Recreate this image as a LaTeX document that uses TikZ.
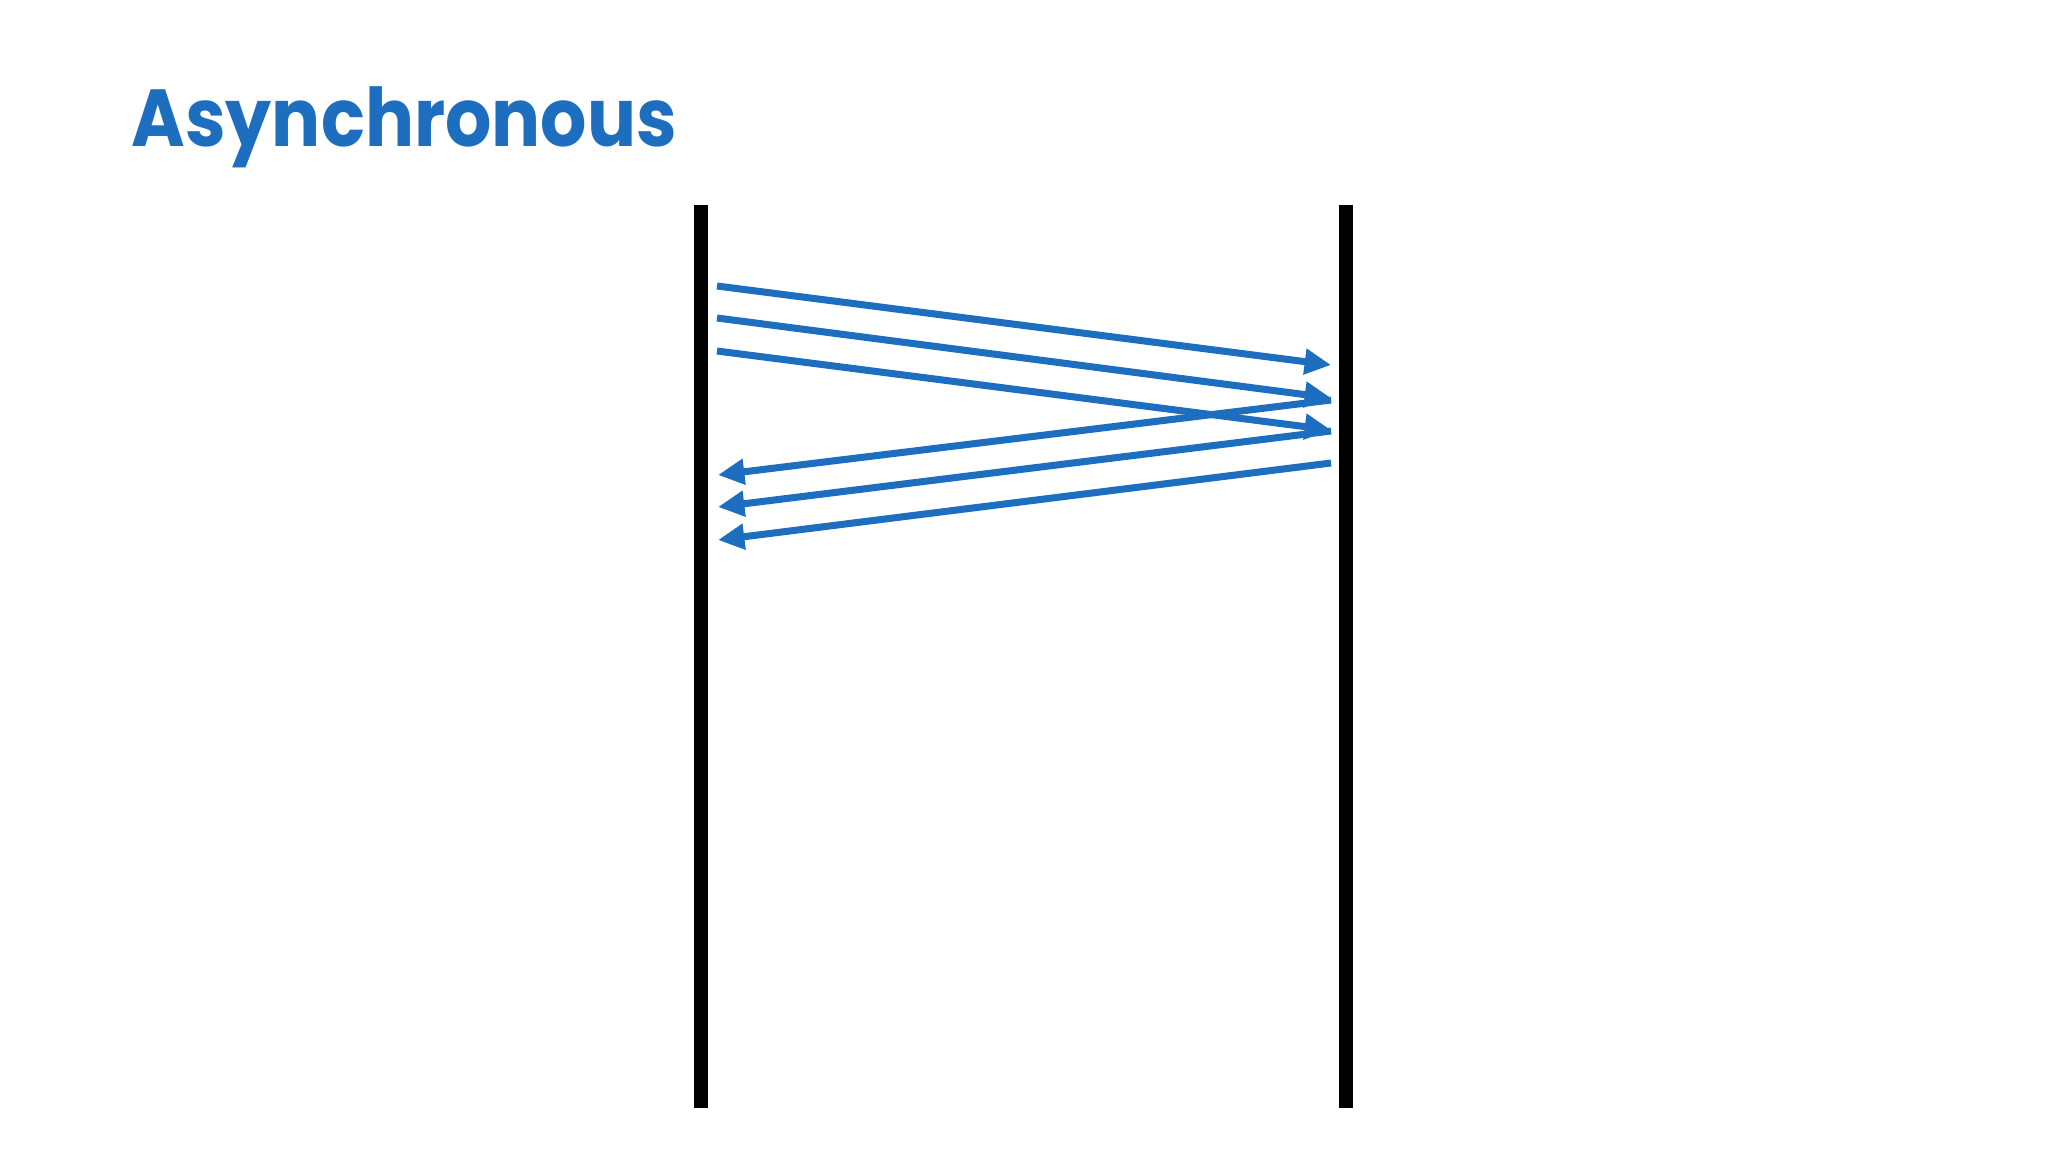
\documentclass[tikz,border=0pt]{standalone}
\usepackage{fontspec}
\setmainfont{Poppins}
\newfontfamily\titlefont{Poppins}[FakeStretch=0.9]
\usetikzlibrary{arrows.meta}
\definecolor{asyncblue}{RGB}{30,110,192}
\tikzset{lifeline/.style={line width=4pt, black}}
\tikzset{msg/.style={line width=2pt, asyncblue, -{Triangle[length=7.5pt,width=7pt]}}}

\begin{document}
\begin{tikzpicture}[x=0.01cm,y=-0.01cm]
\useasboundingbox (0,0) rectangle (2048,1152);
\node[anchor=base west, inner sep=0, text=asyncblue, font=\titlefont\bfseries\fontsize{23}{28}\selectfont] (title) at (131,147) {Asynchronous};

% the two lifelines
\coordinate (Atop) at (701,205);
\coordinate (Abot) at (701,1108);
\coordinate (Btop) at (1346,205);
\coordinate (Bbot) at (1346,1108);
\draw[lifeline] (Atop) -- (Abot);
\draw[lifeline] (Btop) -- (Bbot);

% requests
\coordinate (a1) at (717,286);
\coordinate (a2) at (717,318);
\coordinate (a3) at (717,351);
\coordinate (b1) at (1331,365);
\coordinate (b2) at (1331,398);
\coordinate (b3) at (1331,430);
\draw[msg] (a1) -- (b1);
\draw[msg] (a2) -- (b2);
\draw[msg] (a3) -- (b3);

% replies
\coordinate (c1) at (1331,400);
\coordinate (c2) at (1331,431);
\coordinate (c3) at (1331,463);
\coordinate (d1) at (718,475);
\coordinate (d2) at (718,507);
\coordinate (d3) at (718,540);
\draw[msg] (c1) -- (d1);
\draw[msg] (c2) -- (d2);
\draw[msg] (c3) -- (d3);
\end{tikzpicture}
\end{document}
